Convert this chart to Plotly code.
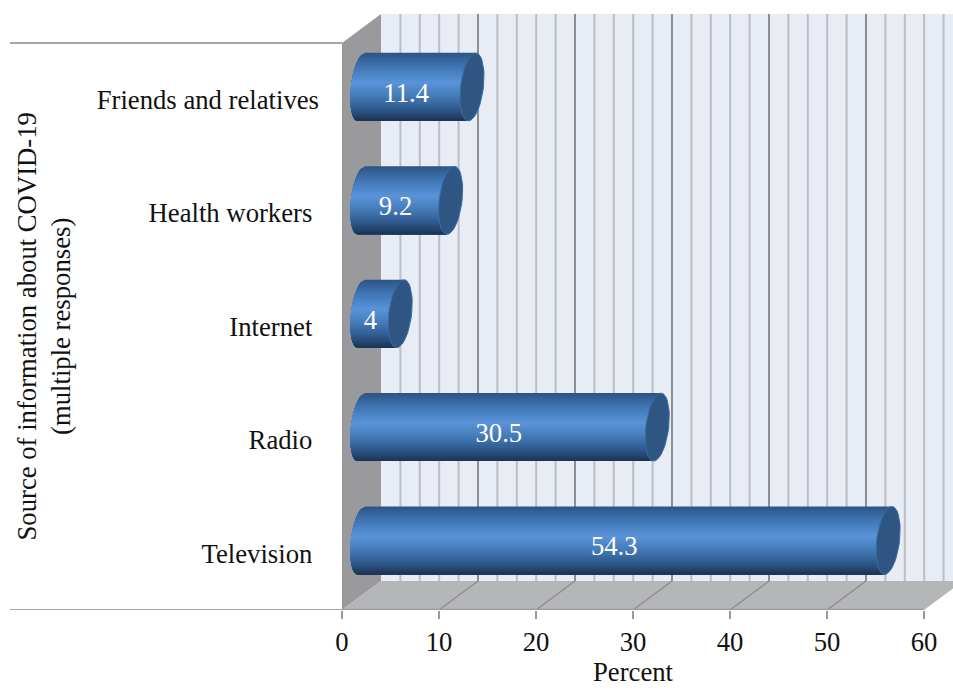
import math
import plotly.graph_objects as go

categories = ["Television", "Radio", "Internet", "Health workers", "Friends and relatives"]
tick_labels = ["Television\u00a0", "Radio\u00a0", "Internet\u00a0", "Health workers\u00a0", "Friends and relatives"]
values = [54.3, 30.5, 4, 9.2, 11.4]
value_labels = ["54.3", "30.5", "4", "9.2", "11.4"]
x_ticks = [0, 10, 20, 30, 40, 50, 60]

FONT = "Liberation Serif"
FS = 26.7
DX, DY = 4.02, 0.2556          # depth of the 3D box, in axis units
BAR_SHIFT = 2.0
BAR_Y = 0.113
H = 0.30                       # half thickness of a cylinder
A, S = 1.18, 0.38              # end ellipse half-width and shear
A_LEFT = 1.08
ypos = list(range(len(values)))

stops = [(1.0, (44, 84, 130)), (0.75, (56, 105, 163)), (0.40, (74, 130, 196)), (0.12, (90, 147, 216)),
         (-0.25, (70, 124, 186)), (-0.60, (50, 95, 148)), (-0.85, (36, 68, 108)), (-1.0, (27, 50, 82))]

def grad(t):
    for (t0, c0), (t1, c1) in zip(stops, stops[1:]):
        if t1 <= t <= t0:
            f = (t0 - t) / (t0 - t1)
            return "rgb(%d,%d,%d)" % tuple(round(a + (b - a) * f) for a, b in zip(c0, c1))
    return "rgb(%d,%d,%d)" % stops[-1][1]

fig = go.Figure()

def poly(xs, ys, color, line=None, lw=0):
    fig.add_trace(go.Scatter(x=xs, y=ys, mode="lines", fill="toself", fillcolor=color,
                             line=dict(color=line or color, width=lw), hoverinfo="skip",
                             showlegend=False))

def lines(xs, ys, color, w):
    fig.add_trace(go.Scatter(x=xs, y=ys, mode="lines", line=dict(color=color, width=w),
                             hoverinfo="skip", showlegend=False))

y0, y1 = -0.5, len(values) - 0.5
x0, x1 = x_ticks[0], x_ticks[-1]
# back wall, side wall, floor
poly([x0 + DX, x1 + DX, x1 + DX, x0 + DX], [y0 + DY, y0 + DY, y1 + DY, y1 + DY], "#e8ecf5")
poly([x0, x0 + DX, x0 + DX, x0], [y1, y1 + DY, y0 + DY, y0], "#9a9a9d")
poly([x0, x0 + DX, x1 + DX, x1], [y0, y0 + DY, y0 + DY, y0], "#b5b6b8")

gx_minor, gy_minor, gx_major, gy_major, fx, fy = [], [], [], [], [], []
for k in range(2, 60, 2):
    if k % 10 == 0:
        gx_major += [k + DX, k + DX, None]
        gy_major += [y0 + DY, y1 + DY, None]
    else:
        gx_minor += [k + DX, k + DX, None]
        gy_minor += [y0 + DY, y1 + DY, None]
for k in x_ticks[1:-1]:
    fx += [k, k + DX, None]
    fy += [y0, y0 + DY, None]
lines(gx_minor, gy_minor, "#bcbec2", 2)
lines(gx_major, gy_major, "#8d8e91", 2)
lines(fx, fy, "#8a8a8c", 1.2)
# front edges of the box
lines([x0, x1, None, x0, x0], [y0, y0, None, y0, y1], "#9a9a9a", 2.5)

# cylinder bodies: each strip runs from its top edge to the bottom, painted top first
N = 40
for j in range(N):
    t_top = 1 - 2 * j / N
    t_mid = 1 - 2 * (j + 0.5) / N
    xs, ys = [], []
    for v, p in zip(values, ypos):
        c0 = BAR_SHIFT
        c1 = v + BAR_SHIFT
        cy = p + BAR_Y
        xs.append(c1 + S * t_top)
        ys.append(cy + H * t_top)
        n = 24
        for m in range(n + 1):
            t = t_top + (-1 - t_top) * m / n
            xs.append(c0 + S * t - A_LEFT * math.sqrt(max(0, 1 - t * t)))
            ys.append(cy + H * t)
        xs.append(c1 - S)
        ys.append(cy - H)
        xs.append(None)
        ys.append(None)
    poly(xs, ys, grad(t_mid))

# cylinder end caps
ex, ey = [], []
for v, p in zip(values, ypos):
    for n in range(49):
        th = 2 * math.pi * n / 48
        ex.append(v + BAR_SHIFT + A * math.cos(th) + S * math.sin(th))
        ey.append(p + BAR_Y + H * math.sin(th))
    ex.append(None)
    ey.append(None)
poly(ex, ey, "#2f5682", "#3a6ca6", 1)

# value labels
fig.add_trace(go.Scatter(
    x=[v / 2 + BAR_SHIFT - A_LEFT for v in values], y=[p + 0.04 for p in ypos],
    mode="text", text=value_labels, textposition="middle center",
    textfont=dict(family=FONT, size=FS, color="white"),
    hoverinfo="skip", showlegend=False))

W, HT, ML, MB = 953, 690, 342, 80
PX_X = (924 - 342) / 60
PX_Y = (610 - 43) / 5
fig.update_layout(
    width=W, height=HT, autosize=False,
    margin=dict(l=ML, r=0, t=0, b=MB, autoexpand=False),
    paper_bgcolor="white", plot_bgcolor="white",
    showlegend=False,
    font=dict(family=FONT, size=FS, color="#111111"),
    xaxis=dict(range=[x0, (W - ML) / PX_X], tickvals=x_ticks, showgrid=False, zeroline=False,
               ticks="outside", ticklen=8, tickcolor="#9a9a9a", tickwidth=2, automargin=False,
               showline=False,
               tickfont=dict(family=FONT, size=FS, color="#111111")),
    yaxis=dict(range=[y0, y0 + (HT - MB) / PX_Y], tickvals=ypos, ticktext=tick_labels, showgrid=False,
               zeroline=False, ticks="", ticklabelstandoff=22, showline=False, automargin=False,
               tickfont=dict(family=FONT, size=FS, color="#111111")),
    shapes=[
        dict(type="line", xref="paper", yref="y", x0=-332 / 611, x1=0, y0=y1, y1=y1,
             line=dict(color="#8a8a8a", width=1.5)),
        dict(type="line", xref="paper", yref="y", x0=-332 / 611, x1=0, y0=y0, y1=y0,
             line=dict(color="#8a8a8a", width=1.5)),
    ],
    annotations=[
        dict(text="Percent", xref="x", yref="paper", x=30, y=-79 / 610, showarrow=False,
             xanchor="center", yanchor="bottom", font=dict(family=FONT, size=FS, color="#111111")),
        dict(text="Source of information about COVID-19<br>(multiple responses)", xref="paper", yref="y",
             x=(44 - ML) / 611, y=2, textangle=-90, showarrow=False, align="center",
             xanchor="center", yanchor="middle", font=dict(family=FONT, size=FS, color="#111111")),
    ],
)
fig.write_html("out.html", post_script="document.body.style.margin='0';",
               config=dict(displayModeBar=False))
